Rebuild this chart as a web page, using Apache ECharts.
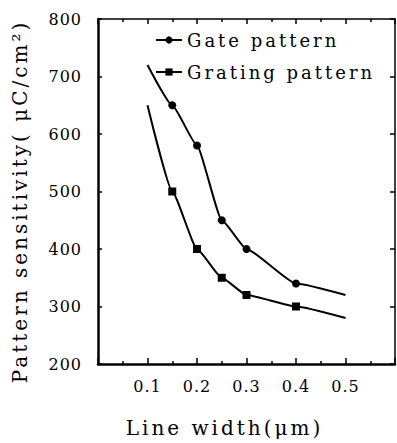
<!DOCTYPE html>
<html>
<head>
<meta charset="utf-8">
<script src="https://cdn.jsdelivr.net/npm/echarts@6/dist/echarts.min.js"></script>
<style>
    html, body { margin: 0; padding: 0; background: #fff; }
    #chart { width: 397px; height: 443px; }
    /* typewriter-like spacing of the scanned figure */
    #chart text[style*="16px"] { letter-spacing: 1px; }
    #chart text[style*="18px"], #chart text[style*="20px"] { letter-spacing: 3px; }
</style>
</head>
<body>
<div id="chart"></div>
<script>
// line width (um)
const lineWidths = [0.1, 0.15, 0.2, 0.25, 0.3, 0.4, 0.5];
// pattern sensitivity (uC/cm2)
const gateValues = [720, 650, 580, 450, 400, 340, 320];
const gratingValues = [650, 500, 400, 350, 320, 300, 280];
const seriesNames = ['Gate pattern', 'Grating pattern'];

const FONT = 'DejaVu Serif';
const INK = '#000';

// end points of the curves are drawn without a marker
const toPoints = (values) => values.map((v, i) => {
    const item = { value: [lineWidths[i], v] };
    if (i === 0 || i === values.length - 1) item.symbol = 'none';
    return item;
});

const chart = echarts.init(document.getElementById('chart'), null, { renderer: 'svg' });

const frameAxis = {
    axisLine: { show: true, onZero: false, lineStyle: { color: INK, width: 1.5 } },
    axisTick: { show: true, inside: true, length: 5, lineStyle: { color: INK, width: 1.5 } },
    axisLabel: { show: false },
    splitLine: { show: false }
};

const option = {
    animation: false,
    backgroundColor: '#fff',
    grid: { left: 98, right: 2, top: 19, bottom: 77 },
    legend: {
        data: seriesNames,
        orient: 'vertical',
        left: 150,
        top: 26,
        itemGap: 14,
        itemWidth: 26,
        itemHeight: 9,
        textStyle: { fontFamily: FONT, fontSize: 18, color: INK }
    },
    xAxis: [
        {
            type: 'value',
            min: 0,
            max: 0.6,
            interval: 0.1,
            name: 'Line width(μm)',
            nameLocation: 'middle',
            nameGap: 54,
            nameTextStyle: { fontFamily: FONT, fontSize: 20, color: INK, padding: [0, 44, 0, 0] },
            axisLine: { show: true, onZero: false, lineStyle: { color: INK, width: 2.5 } },
            axisTick: { show: true, inside: true, length: 6, lineStyle: { color: INK, width: 1.5 } },
            minorTick: { show: true, splitNumber: 2, length: 3, lineStyle: { color: INK, width: 1.5 } },
            axisLabel: {
                showMinLabel: false,
                showMaxLabel: false,
                margin: 14,
                fontFamily: FONT,
                fontSize: 16,
                color: INK
            },
            splitLine: { show: false }
        },
        Object.assign({}, frameAxis, {
            type: 'value',
            position: 'top',
            min: 0,
            max: 0.6,
            interval: 0.1,
            minorTick: { show: true, splitNumber: 2, length: 3, lineStyle: { color: INK, width: 1.5 } }
        })
    ],
    yAxis: [
        {
            type: 'value',
            min: 200,
            max: 800,
            interval: 100,
            name: 'Pattern sensitivity( μC/cm²)',
            nameLocation: 'middle',
            nameGap: 68,
            nameTextStyle: {
                fontFamily: FONT,
                fontSize: 20,
                color: INK,
                padding: [0, 20, 0, 0]
            },
            axisLine: { show: true, onZero: false, lineStyle: { color: INK, width: 2.5 } },
            axisTick: { show: true, inside: true, length: 4, lineStyle: { color: INK, width: 1.5 } },
            axisLabel: { margin: 16, fontFamily: FONT, fontSize: 16, color: INK },
            splitLine: { show: false }
        },
        Object.assign({}, frameAxis, {
            type: 'value',
            position: 'right',
            min: 200,
            max: 800,
            interval: 100
        })
    ],
    series: [
        {
            name: seriesNames[0],
            type: 'line',
            data: toPoints(gateValues),
            smooth: 0.15,
            smoothMonotone: 'x',
            symbol: 'circle',
            symbolSize: 8,
            lineStyle: { color: INK, width: 2 },
            itemStyle: { color: INK }
        },
        {
            name: seriesNames[1],
            type: 'line',
            data: toPoints(gratingValues),
            smooth: 0.15,
            smoothMonotone: 'x',
            symbol: 'rect',
            symbolSize: 8,
            lineStyle: { color: INK, width: 2 },
            itemStyle: { color: INK }
        }
    ]
};

chart.setOption(option);
</script>
</body>
</html>
